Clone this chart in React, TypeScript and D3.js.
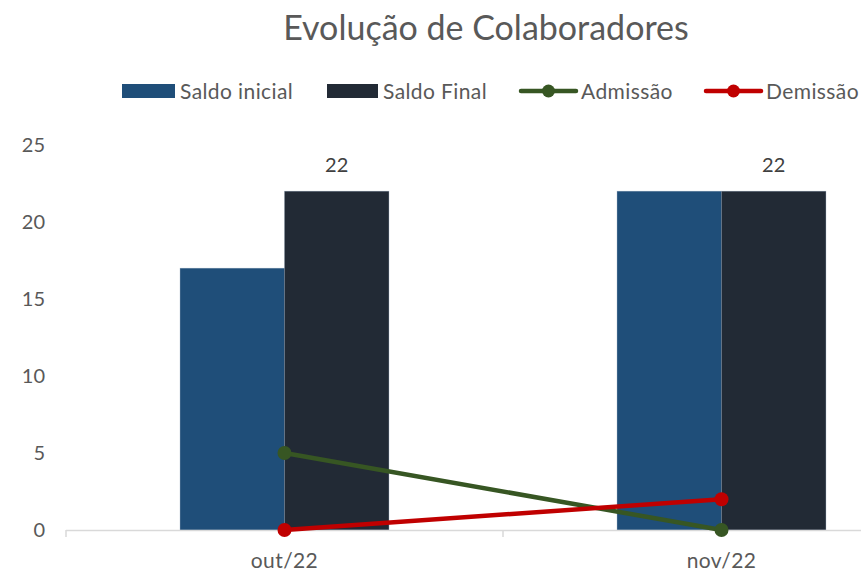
import React from "react";
import * as d3 from "d3";

const categories = ["out/22", "nov/22"];
const saldoInicial = [17, 22];
const saldoFinal = [22, 22];
const admissao = [5, 0];
const demissao = [0, 2];
const yTicks = [0, 5, 10, 15, 20, 25];

const W = 861;
const H = 572;
const FONT = "Lato, Carlito, 'Open Sans', sans-serif";
const TEXT = "#595959";

const barSeries = [
  { name: "Saldo inicial", values: saldoInicial, color: "#1F4E79" },
  { name: "Saldo Final", values: saldoFinal, color: "#222A35" },
];
const lineSeries = [
  { name: "Admissão", values: admissao, color: "#375623" },
  { name: "Demissão", values: demissao, color: "#C00000" },
];

const App = () => {
  const x = d3
    .scaleBand<string>()
    .domain(categories)
    .range([66, 940])
    .paddingInner(0.522)
    .paddingOuter(0.261);
  const step = x.step();
  const xSub = d3
    .scaleBand<string>()
    .domain(barSeries.map((s) => s.name))
    .range([0, x.bandwidth()]);
  const y = d3.scaleLinear().domain([0, 25]).range([530, 145]);
  const center = (c) => (x(c) as number) + x.bandwidth() / 2;

  const legend = [
    { kind: "bar", x: 122, w: 53, ...barSeries[0] },
    { kind: "bar", x: 327, w: 51, ...barSeries[1] },
    { kind: "line", x: 521, w: 55, ...lineSeries[0] },
    { kind: "line", x: 706, w: 55, ...lineSeries[1] },
  ];

  return (
    <svg
      width={W}
      height={H}
      style={{ position: "absolute", left: 0, top: 0, background: "#fff" }}
      fontFamily={FONT}
    >
      <text x={486} y={40} textAnchor="middle" fontSize={34} fill={TEXT}>
        Evolução de Colaboradores
      </text>

      {legend.map((l) => (
        <g key={l.name}>
          {l.kind === "bar" ? (
            <rect x={l.x} y={84} width={l.w} height={14} fill={l.color} />
          ) : (
            <g>
              <line
                x1={l.x}
                x2={l.x + l.w}
                y1={91}
                y2={91}
                stroke={l.color}
                strokeWidth={4.5}
                strokeLinecap="round"
              />
              <circle cx={l.x + l.w / 2} cy={91} r={6.5} fill={l.color} />
            </g>
          )}
          <text x={l.x + l.w + 5} y={99} fontSize={21} letterSpacing={0.4} fill={TEXT}>
            {l.name}
          </text>
        </g>
      ))}

      {yTicks.map((t) => (
        <text
          key={t}
          x={45}
          y={y(t) + 7}
          textAnchor="end"
          fontSize={20}
          fill={TEXT}
        >
          {t}
        </text>
      ))}

      {barSeries.map((s) =>
        categories.map((c, i) => (
          <rect
            key={s.name + c}
            x={(x(c) as number) + (xSub(s.name) as number)}
            y={y(s.values[i])}
            width={xSub.bandwidth()}
            height={y(0) - y(s.values[i])}
            fill={s.color}
            stroke="#8497B0"
            strokeOpacity={0.5}
            strokeWidth={0.6}
          />
        ))
      )}

      {categories.map((c, i) => (
        <text
          key={"lbl" + c}
          x={(x(c) as number) + (xSub("Saldo Final") as number) + xSub.bandwidth() / 2}
          y={y(saldoFinal[i]) - 19}
          textAnchor="middle"
          fontSize={20}
          fill="#404040"
        >
          {saldoFinal[i]}
        </text>
      ))}

      <line x1={66} x2={W} y1={y(0) + 0.5} y2={y(0) + 0.5} stroke="#D9D9D9" strokeWidth={1.5} />
      {[0, 1, 2].map((k) => (
        <line
          key={k}
          x1={66 + k * step}
          x2={66 + k * step}
          y1={y(0)}
          y2={y(0) + 7}
          stroke="#D9D9D9"
          strokeWidth={1.5}
        />
      ))}

      {categories.map((c) => (
        <text key={"x" + c} x={center(c)} y={568} textAnchor="middle" fontSize={21} letterSpacing={0.4} fill={TEXT}>
          {c}
        </text>
      ))}

      {lineSeries.map((s) => {
        const line = d3
          .line<number>()
          .x((_, i) => center(categories[i]))
          .y((d) => y(d));
        return (
          <g key={s.name}>
            <path d={line(s.values) as string} fill="none" stroke={s.color} strokeWidth={4.5} strokeLinecap="round" />
            {s.values.map((v, i) => (
              <circle key={i} cx={center(categories[i])} cy={y(v)} r={7} fill={s.color} />
            ))}
          </g>
        );
      })}
    </svg>
  );
};

export default App;
